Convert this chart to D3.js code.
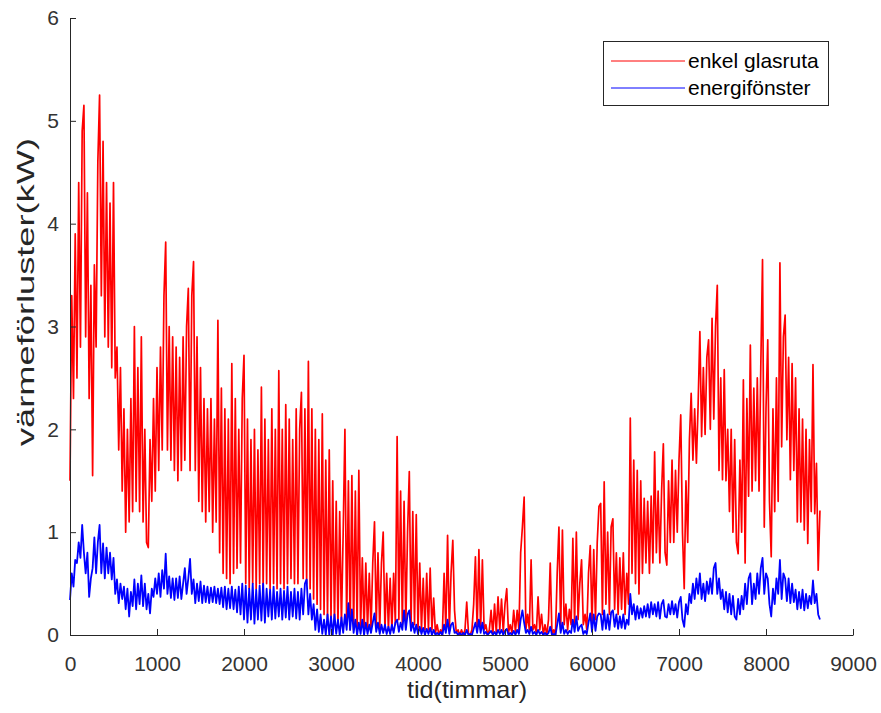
<!DOCTYPE html>
<html>
<head>
<meta charset="utf-8">
<script src="https://cdn.jsdelivr.net/npm/d3@7"></script>
<style>
  html, body { margin: 0; padding: 0; background: #ffffff; }
  svg { display: block; font-family: "Liberation Sans", Arial, sans-serif; }
</style>
</head>
<body>
<svg id="chart" width="881" height="713"></svg>
<script>
// ---- data (one value every 20 hours, alternating daily highs/lows) ----
const sampleStepHours = 20;

const enkelGlasruta = [
  1.5, 3.3, 2.3, 3.9, 2.5, 4.4, 2.8, 4.9, 5.15, 2.9,
  4.3, 2.3, 3.4, 1.55, 3.6, 2.8, 4.6, 5.25, 3.3, 4.8,
  2.9, 4.4, 2.8, 4.2, 2.6, 4.4, 2.5, 2.8, 1.8, 2.6,
  1.4, 2.2, 1.0, 2.0, 1.1, 2.3, 1.2, 3.0, 1.3, 2.6,
  1.2, 2.9, 1.1, 2.0, 0.9, 0.85, 1.9, 1.3, 2.3, 1.4,
  // 1000
  2.6, 1.6, 2.8, 1.8, 3.3, 3.82, 1.8, 3.0, 1.7, 2.9,
  1.6, 2.8, 1.5, 2.7, 1.6, 2.9, 1.7, 3.0, 3.37, 1.6,
  3.3, 3.63, 1.6, 2.9, 1.3, 2.6, 1.2, 2.3, 1.1, 2.2,
  1.2, 2.3, 1.0, 2.1, 1.1, 3.06, 0.8, 2.4, 0.6, 2.2,
  0.55, 2.1, 0.5, 2.64, 0.6, 2.3, 0.65, 2.0, 0.7, 2.3,
  // 2000
  2.72, 0.5, 2.1, 0.45, 1.9, 0.5, 2.0, 0.45, 1.8, 0.5,
  2.41, 0.45, 2.1, 0.5, 1.9, 0.45, 2.2, 0.5, 2.0, 0.45,
  2.57, 0.5, 2.0, 0.45, 2.24, 0.5, 2.1, 0.55, 1.9, 0.5,
  2.2, 0.5, 2.0, 2.36, 0.55, 2.2, 0.5, 2.66, 0.45, 2.2,
  0.35, 2.0, 0.3, 1.9, 0.25, 2.15, 0.2, 1.7, 0.15, 1.8,
  // 3000
  0.15, 1.5, 0.1, 1.3, 0.1, 1.2, 0.1, 1.0, 2.0, 0.1,
  1.5, 0.05, 1.55, 0.05, 1.4, 0.05, 1.6, 0.05, 0.75, 0.05,
  0.7, 0.05, 0.6, 0.05, 0.7, 1.1, 0.1, 0.8, 0.05, 0.7,
  1.0, 0.05, 0.6, 0.05, 0.55, 0.05, 0.6, 0.1, 1.93, 0.15,
  1.4, 0.1, 1.3, 0.1, 1.0, 1.59, 0.1, 1.2, 0.1, 1.17,
  // 4000
  0.05, 0.7, 0.05, 0.55, 0.05, 0.6, 0.05, 0.65, 0.05, 0.36,
  0.02, 0.1, 0.0, 0.05, 0.0, 0.6, 0.05, 0.97, 0.05, 0.6,
  0.92, 0.24, 0.02, 0.05, 0.0, 0.05, 0.0, 0.05, 0.32, 0.02,
  0.0, 0.05, 0.3, 0.76, 0.05, 0.83, 0.05, 0.73, 0.05, 0.1,
  0.0, 0.05, 0.24, 0.0, 0.3, 0.02, 0.37, 0.05, 0.35, 0.03,
  // 5000
  0.3, 0.45, 0.02, 0.1, 0.02, 0.24, 0.03, 0.24, 0.05, 0.8,
  1.05, 1.34, 0.05, 0.2, 0.05, 0.73, 0.05, 0.1, 0.02, 0.37,
  0.05, 0.2, 0.0, 0.1, 0.0, 0.15, 0.7, 0.0, 0.05, 0.0,
  0.6, 1.05, 0.05, 1.02, 0.1, 0.3, 0.05, 0.25, 0.1, 0.94,
  0.1, 1.0, 0.15, 0.5, 0.73, 0.1, 0.2, 0.05, 0.6, 0.87,
  // 6000
  0.1, 0.83, 0.15, 0.9, 1.25, 1.28, 0.2, 1.49, 0.3, 1.0,
  0.2, 1.05, 1.13, 0.25, 0.8, 0.2, 0.75, 0.25, 0.8, 0.2,
  0.6, 0.3, 2.11, 0.6, 1.7, 0.5, 1.6, 0.4, 1.5, 0.6,
  1.33, 0.7, 1.3, 0.6, 1.35, 0.7, 1.78, 0.8, 1.4, 0.7,
  1.4, 1.86, 0.8, 0.68, 1.5, 0.9, 1.7, 0.9, 1.6, 1.0,
  // 7000
  1.7, 2.14, 1.0, 0.45, 1.5, 0.9, 1.9, 2.35, 1.7, 2.2,
  1.67, 2.25, 2.95, 1.93, 2.6, 1.95, 2.7, 2.87, 2.0, 3.08,
  2.1, 3.0, 3.4, 1.6, 2.5, 1.51, 2.58, 1.5, 2.0, 1.2,
  2.0, 1.0, 1.9, 0.9, 0.79, 1.7, 1.0, 2.48, 0.7, 2.3,
  1.35, 2.82, 1.4, 2.4, 1.5, 2.5, 1.4, 2.6, 3.65, 1.05,
  // 8000
  2.2, 2.87, 1.3, 0.76, 2.2, 1.2, 2.5, 1.3, 3.62, 1.83,
  2.9, 3.11, 1.9, 2.7, 1.51, 2.64, 1.6, 2.5, 1.1, 2.2,
  1.1, 2.1, 1.02, 2.0, 0.89, 1.9, 1.2, 2.63, 1.18, 1.67,
  0.63, 1.21
];

const energifonster = [
  0.34, 0.6, 0.47, 0.73, 0.7, 0.9, 0.75, 1.07, 0.8, 0.6,
  0.8, 0.37, 0.55, 0.65, 0.95, 0.6, 0.9, 1.07, 0.6, 0.89,
  0.55, 0.85, 0.6, 0.8, 0.54, 0.75, 0.4, 0.54, 0.31, 0.5,
  0.35, 0.47, 0.25, 0.45, 0.18, 0.42, 0.28, 0.54, 0.25, 0.5,
  0.3, 0.58, 0.28, 0.5, 0.25, 0.4, 0.21, 0.45, 0.37, 0.55,
  // 1000
  0.4, 0.6, 0.37, 0.63, 0.45, 0.79, 0.4, 0.57, 0.36, 0.55,
  0.34, 0.55, 0.36, 0.57, 0.35, 0.5, 0.65, 0.4, 0.55, 0.74,
  0.4, 0.54, 0.31, 0.5, 0.33, 0.52, 0.31, 0.48, 0.32, 0.47,
  0.31, 0.46, 0.32, 0.47, 0.31, 0.45, 0.3, 0.46, 0.27, 0.47,
  0.25, 0.45, 0.26, 0.47, 0.25, 0.44, 0.22, 0.47, 0.2, 0.5,
  // 2000
  0.15, 0.48, 0.12, 0.45, 0.15, 0.5, 0.11, 0.44, 0.15, 0.48,
  0.14, 0.5, 0.12, 0.45, 0.18, 0.44, 0.15, 0.47, 0.16, 0.42,
  0.18, 0.45, 0.15, 0.43, 0.17, 0.47, 0.15, 0.42, 0.18, 0.45,
  0.16, 0.42, 0.15, 0.45, 0.2, 0.5, 0.54, 0.2, 0.4, 0.15,
  0.3, 0.05, 0.25, 0.03, 0.2, 0.01, 0.15, 0.0, 0.2, 0.0,
  // 3000
  0.18, 0.0, 0.2, 0.01, 0.15, 0.0, 0.17, 0.02, 0.2, 0.05,
  0.31, 0.05, 0.25, 0.02, 0.15, 0.0, 0.12, 0.01, 0.15, 0.0,
  0.12, 0.01, 0.1, 0.02, 0.12, 0.21, 0.03, 0.12, 0.01, 0.1,
  0.02, 0.1, 0.01, 0.08, 0.01, 0.1, 0.02, 0.12, 0.15, 0.03,
  0.12, 0.05, 0.24, 0.05, 0.2, 0.24, 0.04, 0.12, 0.02, 0.1,
  // 4000
  0.01, 0.08, 0.01, 0.07, 0.0, 0.06, 0.01, 0.07, 0.0, 0.05,
  0.0, 0.02, 0.0, 0.03, 0.0, 0.1, 0.02, 0.15, 0.01, 0.1,
  0.12, 0.02, 0.03, 0.0, 0.02, 0.0, 0.02, 0.0, 0.05, 0.0,
  0.01, 0.0, 0.06, 0.12, 0.02, 0.15, 0.02, 0.12, 0.01, 0.03,
  0.0, 0.02, 0.04, 0.0, 0.03, 0.0, 0.05, 0.01, 0.05, 0.0,
  // 5000
  0.04, 0.06, 0.0, 0.02, 0.0, 0.04, 0.0, 0.05, 0.01, 0.15,
  0.24, 0.12, 0.02, 0.05, 0.01, 0.08, 0.01, 0.03, 0.0, 0.05,
  0.01, 0.03, 0.0, 0.02, 0.0, 0.02, 0.08, 0.0, 0.01, 0.0,
  0.1, 0.21, 0.02, 0.12, 0.01, 0.05, 0.01, 0.04, 0.02, 0.15,
  0.03, 0.18, 0.04, 0.08, 0.1, 0.01, 0.04, 0.01, 0.12, 0.21,
  // 6000
  0.03, 0.2, 0.04, 0.18, 0.21, 0.2, 0.05, 0.24, 0.06, 0.2,
  0.05, 0.22, 0.24, 0.08, 0.2, 0.06, 0.18, 0.07, 0.2, 0.06,
  0.15, 0.1, 0.4, 0.2, 0.3, 0.15, 0.28, 0.16, 0.26, 0.17,
  0.28, 0.18, 0.3, 0.17, 0.32, 0.2, 0.3, 0.18, 0.32, 0.16,
  0.3, 0.34, 0.18, 0.17, 0.3, 0.2, 0.33, 0.2, 0.3, 0.17,
  // 7000
  0.32, 0.37, 0.15, 0.08, 0.3, 0.2, 0.4, 0.31, 0.5, 0.35,
  0.55, 0.4, 0.6, 0.35, 0.5, 0.33, 0.52, 0.4, 0.55, 0.4,
  0.65, 0.7, 0.4, 0.55, 0.35, 0.44, 0.25, 0.42, 0.22, 0.4,
  0.2, 0.38, 0.18, 0.15, 0.35, 0.2, 0.38, 0.25, 0.5, 0.3,
  0.55, 0.6, 0.3, 0.5, 0.35, 0.6, 0.4, 0.65, 0.75, 0.4,
  // 8000
  0.6, 0.55, 0.3, 0.18, 0.45, 0.3, 0.55, 0.4, 0.73, 0.35,
  0.6, 0.55, 0.33, 0.55, 0.31, 0.5, 0.32, 0.44, 0.25, 0.42,
  0.26, 0.44, 0.24, 0.4, 0.26, 0.38, 0.3, 0.53, 0.31, 0.4,
  0.2, 0.15
];

const seriesNames = ["enkel glasruta", "energifönster"];
const seriesColors = ["#ff0000", "#0000ff"];
const seriesWidths = [1.7, 1.8];
const xTicks = [0, 1000, 2000, 3000, 4000, 5000, 6000, 7000, 8000, 9000];
const yTicks = [0, 1, 2, 3, 4, 5, 6];
const xLabel = "tid(timmar)";
const yLabel = "värmeförluster(kW)";

// ---- chart ----
const svg = d3.select("#chart");
const axisColor = "#262626";

const x = d3.scaleLinear().domain([0, 9000]).range([70, 853]);
const y = d3.scaleLinear().domain([0, 6]).range([635, 18]);

const line = d3.line()
  .x((d, i) => x(i * sampleStepHours))
  .y(d => y(d));

[enkelGlasruta, energifonster].forEach((vals, k) => {
  svg.append("path")
    .datum(vals)
    .attr("fill", "none")
    .attr("stroke", seriesColors[k])
    .attr("stroke-width", seriesWidths[k])
    .attr("stroke-linejoin", "round")
    .attr("d", line);
});

// axes (MATLAB style, ticks inward, no box)
const xAxis = svg.append("g")
  .attr("transform", "translate(0,635)")
  .call(d3.axisBottom(x).tickValues(xTicks).tickFormat(d3.format("d"))
    .tickSizeInner(-6).tickSizeOuter(0).tickPadding(21));
const yAxis = svg.append("g")
  .attr("transform", "translate(70,0)")
  .call(d3.axisLeft(y).tickValues(yTicks).tickFormat(d3.format("d"))
    .tickSizeInner(-6).tickSizeOuter(0).tickPadding(11));

[xAxis, yAxis].forEach(g => {
  g.select(".domain").attr("stroke", axisColor).attr("stroke-width", 1);
  g.selectAll(".tick line").attr("stroke", axisColor).attr("stroke-width", 1);
  g.selectAll(".tick text")
    .attr("fill", "#333333")
    .style("font-size", "21px")
    .style("font-family", "'Liberation Sans', Arial, sans-serif");
});

// axis labels
svg.append("text")
  .attr("x", 467).attr("y", 698)
  .attr("text-anchor", "middle")
  .attr("fill", axisColor)
  .attr("textLength", 120)
  .attr("lengthAdjust", "spacingAndGlyphs")
  .style("font-size", "24px")
  .text(xLabel);

svg.append("text")
  .attr("transform", "translate(34,292) rotate(-90)")
  .attr("text-anchor", "middle")
  .attr("fill", axisColor)
  .attr("textLength", 308)
  .attr("lengthAdjust", "spacingAndGlyphs")
  .style("font-size", "24px")
  .text(yLabel);

// legend
const legend = svg.append("g");
legend.append("rect")
  .attr("x", 603.5).attr("y", 41.5)
  .attr("width", 225).attr("height", 64)
  .attr("fill", "#ffffff")
  .attr("stroke", axisColor)
  .attr("stroke-width", 1);
const legendY = [61, 88];
seriesNames.forEach((name, k) => {
  legend.append("line")
    .attr("x1", 611).attr("x2", 685)
    .attr("y1", legendY[k]).attr("y2", legendY[k])
    .attr("stroke", seriesColors[k])
    .attr("stroke-width", 1);
  legend.append("text")
    .attr("x", 688).attr("y", legendY[k] + 7)
    .attr("fill", "#000000")
    .style("font-size", "21px")
    .text(name);
});
</script>
</body>
</html>
